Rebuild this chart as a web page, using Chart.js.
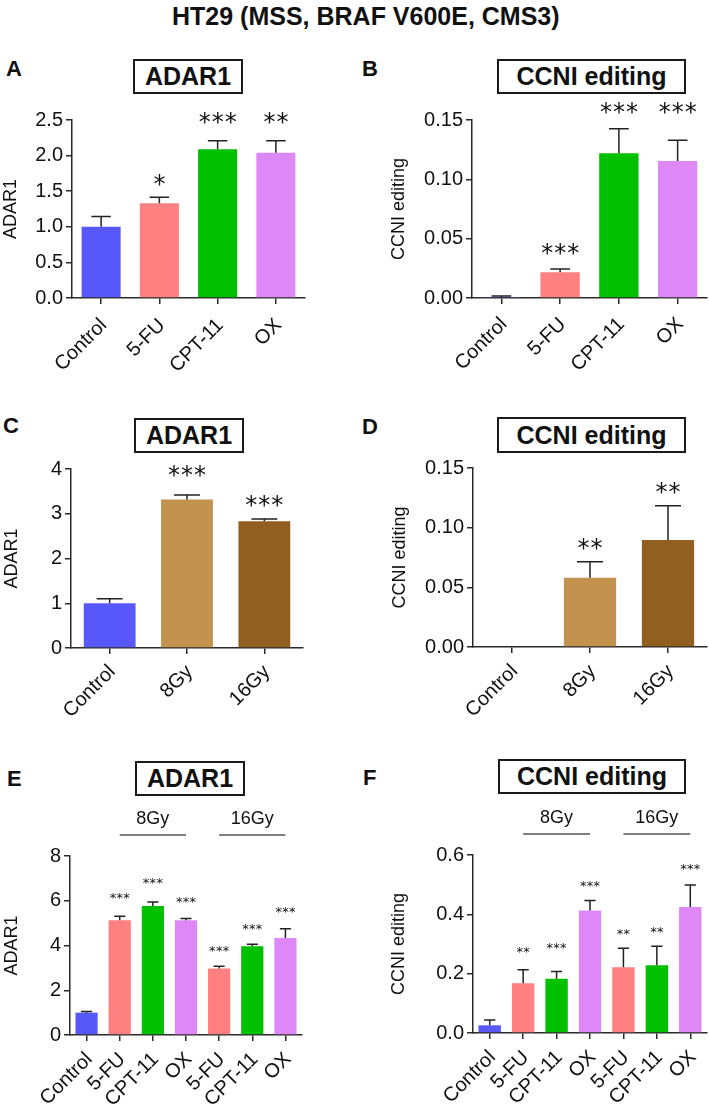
<!DOCTYPE html>
<html><head><meta charset="utf-8">
<script src="https://cdn.jsdelivr.net/npm/chart.js@4.4.1/dist/chart.umd.min.js"></script>
<style>
html,body{margin:0;padding:0;background:#fff;}
body{width:709px;height:1113px;position:relative;overflow:hidden;font-family:"Liberation Sans",Arial,sans-serif;color:#111;}
canvas{position:absolute;}
.main{position:absolute;left:172px;top:4px;white-space:nowrap;font-weight:bold;font-size:25px;line-height:1;}
.letter{position:absolute;font-weight:bold;font-size:22px;line-height:1;}
.tbox{position:absolute;border:2px solid #1a1a1a;box-sizing:border-box;font-weight:bold;font-size:25px;display:flex;align-items:center;justify-content:center;background:#fff;}
</style></head><body>
<div class="main">HT29 (MSS, BRAF V600E, CMS3)</div>
<div class="letter" style="left:6px;top:58px;">A</div>
<div class="letter" style="left:362px;top:58px;">B</div>
<div class="letter" style="left:3px;top:415px;">C</div>
<div class="letter" style="left:362px;top:416px;">D</div>
<div class="letter" style="left:7px;top:768px;">E</div>
<div class="letter" style="left:363px;top:767px;">F</div>
<div class="tbox" style="left:133px;top:59px;width:110px;height:35px;">ADAR1</div>
<div class="tbox" style="left:497px;top:59px;width:189px;height:35px;">CCNI editing</div>
<div class="tbox" style="left:134px;top:418px;width:110px;height:35px;">ADAR1</div>
<div class="tbox" style="left:497px;top:417px;width:189px;height:36px;">CCNI editing</div>
<div class="tbox" style="left:135px;top:761px;width:110px;height:35px;">ADAR1</div>
<div class="tbox" style="left:498px;top:759px;width:188px;height:35px;">CCNI editing</div>

<canvas id="cA" width="354" height="290" style="left:0px;top:100px;"></canvas>
<canvas id="cB" width="355" height="290" style="left:354px;top:100px;"></canvas>
<canvas id="cC" width="354" height="330" style="left:0px;top:400px;"></canvas>
<canvas id="cD" width="355" height="330" style="left:354px;top:400px;"></canvas>
<canvas id="cE" width="354" height="373" style="left:0px;top:740px;"></canvas>
<canvas id="cF" width="355" height="373" style="left:354px;top:740px;"></canvas>

<script>
// ---------------- data ----------------
const catsChemo = ['Control', '5-FU', 'CPT-11', 'OX'];
const catsRad = ['Control', '8Gy', '16Gy'];
const catsCombo = ['Control', '5-FU', 'CPT-11', 'OX', '5-FU', 'CPT-11', 'OX'];
const comboGroups = ['8Gy', '16Gy'];
const comboGroupSpans = [[1, 3], [4, 6]];

const adarChemo = [1.00, 1.33, 2.09, 2.04];
const adarChemoErr = [0.145, 0.085, 0.12, 0.17];
const adarChemoSig = ['', '*', '***', '**'];
const adarChemoSigY = [null, 1.66, 2.53, 2.53];
const adarChemoTicks = [0, 0.5, 1.0, 1.5, 2.0, 2.5];

const ccniChemo = [0.0008, 0.0216, 0.122, 0.1155];
const ccniChemoErr = [0.0009, 0.0028, 0.0207, 0.0174];
const ccniChemoSig = ['', '***', '***', '***'];
const ccniChemoSigY = [null, 0.041, 0.160, 0.160];
const ccniChemoTicks = [0, 0.05, 0.10, 0.15];

const adarRad = [1.00, 3.32, 2.83];
const adarRadErr = [0.10, 0.10, 0.05];
const adarRadSig = ['', '***', '***'];
const adarRadSigY = [null, 3.95, 3.28];
const adarRadTicks = [0, 1, 2, 3, 4];

const ccniRad = [0, 0.058, 0.0897];
const ccniRadErr = [0, 0.0135, 0.0286];
const ccniRadSig = ['', '**', '**'];
const ccniRadSigY = [null, 0.086, 0.133];
const ccniRadTicks = [0, 0.05, 0.10, 0.15];

const adarCombo = [1.00, 5.13, 5.76, 5.13, 2.97, 3.97, 4.34];
const adarComboErr = [0.05, 0.18, 0.18, 0.08, 0.10, 0.09, 0.41];
const adarComboSig = ['', '***', '***', '***', '***', '***', '***'];
const adarComboSigY = [null, 6.20, 6.87, 6.03, 3.83, 4.84, 5.59];
const adarComboTicks = [0, 2, 4, 6, 8];

const ccniCombo = [0.026, 0.168, 0.183, 0.413, 0.222, 0.228, 0.425];
const ccniComboErr = [0.018, 0.045, 0.024, 0.034, 0.064, 0.064, 0.074];
const ccniComboSig = ['', '**', '***', '***', '**', '**', '***'];
const ccniComboSigY = [null, 0.279, 0.293, 0.503, 0.341, 0.347, 0.559];
const ccniComboTicks = [0, 0.2, 0.4, 0.6];

// ---------------- styles ----------------
const BLUE = '#5858FA', PINK = '#FF8080', GREEN = '#00C000', VIOLET = '#DD88F6';
const TAN = '#C4924F', BROWN = '#915F20';
const chemoColors = [BLUE, PINK, GREEN, VIOLET];
const radColors = [BLUE, TAN, BROWN];
const comboColors = [BLUE, PINK, GREEN, VIOLET, PINK, GREEN, VIOLET];

const FONT = '"Liberation Sans", Arial, Helvetica, sans-serif';
Chart.defaults.font.family = FONT;
Chart.defaults.color = '#111';
const XLABEL_SIZE = 20;

function annotPlugin(cfg) {
  return {
    id: 'annot',
    afterDraw(chart) {
      const ctx = chart.ctx;
      const meta = chart.getDatasetMeta(0);
      const ys = chart.scales.y, xs = chart.scales.x;
      const vals = chart.data.datasets[0].data;
      ctx.save();
      // error bars (upper only)
      ctx.strokeStyle = '#222';
      ctx.lineWidth = 1.5;
      meta.data.forEach((bar, i) => {
        const e = cfg.errs[i];
        if (!e) return;
        const y0 = ys.getPixelForValue(vals[i]);
        const y1 = ys.getPixelForValue(vals[i] + e);
        const hw = bar.width / 4;
        ctx.beginPath();
        ctx.moveTo(bar.x, y0); ctx.lineTo(bar.x, y1);
        ctx.moveTo(bar.x - hw, y1); ctx.lineTo(bar.x + hw, y1);
        ctx.stroke();
      });
      // significance stars
      ctx.fillStyle = '#111';
      ctx.font = cfg.starFont;
      ctx.textAlign = 'center';
      ctx.textBaseline = 'alphabetic';
      const m = ctx.measureText('*');
      const off = (m.actualBoundingBoxAscent - m.actualBoundingBoxDescent) / 2;
      cfg.sig.forEach((s, i) => {
        if (!s) return;
        const cy = ys.getPixelForValue(cfg.sigY[i]);
        const cx = meta.data[i].x;
        for (let k = 0; k < s.length; k++) {
          ctx.fillText('*', cx + (k - (s.length - 1) / 2) * cfg.pitch, cy + off);
        }
      });
      // rotated category labels (45 deg, ending at the tick)
      const axisY = xs.top;
      const half = 0.36 * XLABEL_SIZE;
      ctx.font = XLABEL_SIZE + 'px ' + FONT;
      ctx.textAlign = 'right';
      ctx.textBaseline = 'alphabetic';
      chart.data.labels.forEach((lab, i) => {
        const x = xs.getPixelForValue(i);
        ctx.save();
        ctx.translate(x + 1.5, axisY + cfg.labelGap + half * 0.707);
        ctx.rotate(-Math.PI / 4);
        ctx.fillText(lab, 0, half);
        ctx.restore();
      });
      // group labels
      if (cfg.groups) {
        const top = chart.chartArea.top;
        cfg.groups.forEach((g, gi) => {
          const [a, b] = cfg.spans[gi];
          const xa = meta.data[a].x, xb = meta.data[b].x;
          ctx.strokeStyle = '#555';
          ctx.lineWidth = 1.5;
          ctx.beginPath();
          ctx.moveTo(xa, top - 21); ctx.lineTo(xb, top - 21);
          ctx.stroke();
          ctx.fillStyle = '#111';
          ctx.font = '18px ' + FONT;
          ctx.textAlign = 'center';
          ctx.textBaseline = 'middle';
          ctx.fillText(g, (xa + xb) / 2, top - 37);
        });
      }
      ctx.restore();
    }
  };
}

function makePanel(p) {
  const axisColor = '#2a2a2a';
  new Chart(document.getElementById(p.id), {
    type: 'bar',
    data: {
      labels: p.cats,
      datasets: [{
        data: p.vals,
        backgroundColor: p.colors,
        borderWidth: 0,
        barPercentage: 0.67,
        categoryPercentage: 1.0
      }]
    },
    options: {
      responsive: false,
      animation: false,
      devicePixelRatio: 1,
      layout: { padding: { left: 0, right: p.padRight, top: p.padTop, bottom: 0 } },
      plugins: { legend: { display: false }, tooltip: { enabled: false } },
      scales: {
        x: {
          offset: true,
          grid: { offset: false, drawOnChartArea: false, drawTicks: true, tickLength: 6, color: axisColor, lineWidth: 1.5 },
          border: { color: axisColor, width: 1.5 },
          ticks: { display: false },
          afterFit: s => { s.height = p.xHeight; }
        },
        y: {
          min: p.ticks[0], max: p.ticks[p.ticks.length - 1],
          grid: { drawOnChartArea: false, drawTicks: true, tickLength: 6, color: axisColor, lineWidth: 1.5 },
          border: { color: axisColor, width: 1.5 },
          afterBuildTicks: s => { s.ticks = p.ticks.map(v => ({ value: v })); },
          ticks: { padding: 3, font: { size: 20 }, color: '#111', callback: v => Number(v).toFixed(p.dec) },
          title: { display: true, text: p.ytitle, font: { size: 18 }, color: '#111', padding: { top: p.titlePad, bottom: 0 } },
          afterFit: s => { s.width = p.yWidth; }
        }
      }
    },
    plugins: [annotPlugin({ errs: p.errs, sig: p.sig, sigY: p.sigY, starFont: p.starFont, pitch: p.pitch,
      groups: p.groups, spans: p.spans, labelGap: p.labelGap })]
  });
}

const bigStar = '24px "DejaVu Sans", sans-serif';
const smallStar = '13px "DejaVu Sans", sans-serif';

makePanel({ id: 'cA', cats: catsChemo, vals: adarChemo, errs: adarChemoErr, sig: adarChemoSig, sigY: adarChemoSigY,
  colors: chemoColors, ticks: adarChemoTicks, dec: 1, ytitle: 'ADAR1', titlePad: 0,
  yWidth: 72, xHeight: 92, padTop: 20, padRight: 49, starFont: bigStar, pitch: 13, labelGap: 18 });
makePanel({ id: 'cB', cats: catsChemo, vals: ccniChemo, errs: ccniChemoErr, sig: ccniChemoSig, sigY: ccniChemoSigY,
  colors: chemoColors, ticks: ccniChemoTicks, dec: 2, ytitle: 'CCNI editing', titlePad: 34,
  yWidth: 118, xHeight: 92, padTop: 20, padRight: 2, starFont: bigStar, pitch: 13, labelGap: 17 });
makePanel({ id: 'cC', cats: catsRad, vals: adarRad, errs: adarRadErr, sig: adarRadSig, sigY: adarRadSigY,
  colors: radColors, ticks: adarRadTicks, dec: 0, ytitle: 'ADAR1', titlePad: 1,
  yWidth: 71, xHeight: 82, padTop: 69, padRight: 51, starFont: bigStar, pitch: 13, labelGap: 14.5 });
makePanel({ id: 'cD', cats: catsRad, vals: ccniRad, errs: ccniRadErr, sig: ccniRadSig, sigY: ccniRadSigY,
  colors: radColors, ticks: ccniRadTicks, dec: 2, ytitle: 'CCNI editing', titlePad: 35,
  yWidth: 119, xHeight: 83, padTop: 68, padRight: 2, starFont: bigStar, pitch: 13, labelGap: 15 });
makePanel({ id: 'cE', cats: catsCombo, vals: adarCombo, errs: adarComboErr, sig: adarComboSig, sigY: adarComboSigY,
  colors: comboColors, ticks: adarComboTicks, dec: 0, ytitle: 'ADAR1', titlePad: 1,
  yWidth: 70, xHeight: 78, padTop: 116, padRight: 52, starFont: smallStar, pitch: 6.8, labelGap: 15,
  groups: comboGroups, spans: comboGroupSpans });
makePanel({ id: 'cF', cats: catsCombo, vals: ccniCombo, errs: ccniComboErr, sig: ccniComboSig, sigY: ccniComboSigY,
  colors: comboColors, ticks: ccniComboTicks, dec: 1, ytitle: 'CCNI editing', titlePad: 34,
  yWidth: 119, xHeight: 80, padTop: 115, padRight: 2, starFont: smallStar, pitch: 6.8, labelGap: 15,
  groups: comboGroups, spans: comboGroupSpans });
</script>
</body></html>
